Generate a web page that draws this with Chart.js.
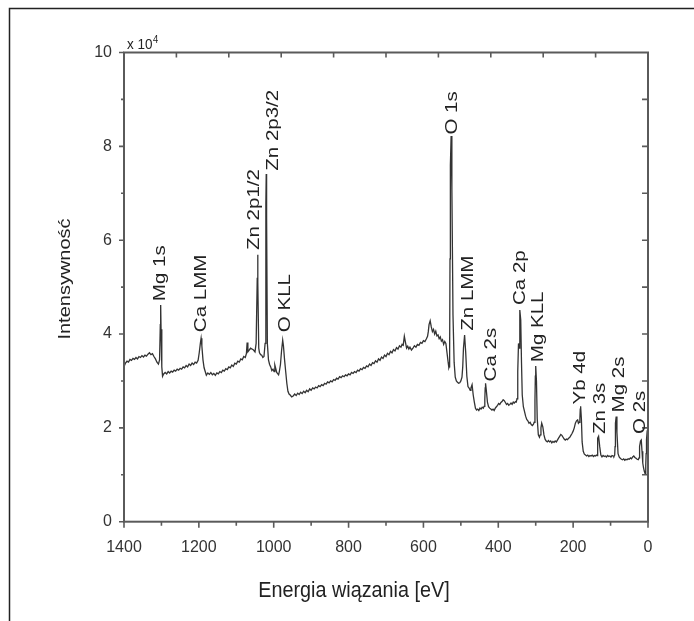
<!DOCTYPE html>
<html><head><meta charset="utf-8">
<script src="https://cdn.jsdelivr.net/npm/chart.js@4.4.1/dist/chart.umd.min.js"></script>
<style>html,body{margin:0;padding:0;background:#fff;}canvas{display:block;}</style>
</head><body>
<canvas id="c" width="694" height="621"></canvas>
<script>
// Binding energy [eV]
const energy = [1400,1396,1392,1388,1384,1380,1376,1372,1368,1364,1360,1356,1352,1348,1344,1340,1336,1332,1328,1324,1320,1316,1312,1308,1305,1303,1302,1301,1299,1297,1294,1290,1286,1282,1278,1274,1270,1266,1262,1258,1254,1250,1246,1242,1238,1234,1230,1226,1222,1218,1214,1210,1206,1202,1199,1196,1194,1192,1189,1186,1183,1180,1176,1172,1168,1164,1160,1156,1152,1148,1144,1140,1136,1132,1128,1124,1120,1116,1112,1108,1104,1100,1096,1092,1088,1084,1080,1076,1073,1071,1069,1066,1062,1058,1054,1050,1047,1044,1043,1042,1040,1038,1035,1032,1029,1026,1023,1021,1020,1019,1017,1014,1011,1008,1005,1002,999,997,995,992,989,987,985,982,979,976,974,971,968,965,962,959,956,952,948,944,940,936,932,928,924,920,916,912,908,904,900,896,892,888,884,880,876,872,868,864,860,856,852,848,844,840,836,832,828,824,820,816,812,808,804,800,796,792,788,784,780,776,772,768,764,760,756,752,748,744,740,736,732,728,724,720,716,712,708,704,700,696,692,688,684,680,676,672,668,664,660,657,654,651,648,645,642,639,636,632,628,624,620,616,612,608,604,600,596,592,589,587,585,582,579,576,573,570,567,564,561,558,555,552,549,546,543,540,537,534,532,531,530,529,528,526,524,521,518,515,512,509,506,503,500,497,495,493,490,487,484,481,478,475,473,470,467,464,461,458,455,452,449,446,443,440,438,436,435,434,432,429,426,423,420,417,414,411,408,405,402,399,396,393,390,387,384,381,378,375,372,369,366,363,360,357,354,352,350,348,346,344,343,342,340,338,336,333,330,327,324,321,318,315,312,309,306,304,302,301,300,298,296,293,290,288,286,284,281,278,275,272,269,266,263,260,257,254,251,248,245,242,239,236,233,230,227,224,221,218,215,212,209,206,203,200,197,194,191,188,186,184,182,181,180,178,176,173,170,167,164,161,158,155,152,149,146,143,140,138,136,135,134,132,129,126,123,120,117,114,111,108,105,102,99,96,93,91,89,88,87,85,83,80,77,74,71,68,65,62,59,56,53,50,47,44,41,38,35,32,29,26,24,23,22,20,18,16,14,12,10,8,6,5,4,2,1];
// Intensity [x 10^4]
const intensity = [3.30,3.38,3.42,3.40,3.46,3.44,3.48,3.46,3.50,3.47,3.52,3.50,3.54,3.51,3.55,3.53,3.57,3.60,3.56,3.58,3.52,3.47,3.40,3.36,3.45,4.20,4.62,4.10,3.30,3.10,3.15,3.18,3.15,3.20,3.17,3.21,3.19,3.23,3.21,3.25,3.23,3.27,3.25,3.30,3.28,3.33,3.30,3.36,3.33,3.38,3.35,3.40,3.38,3.44,3.60,3.80,3.91,3.75,3.45,3.28,3.20,3.12,3.17,3.14,3.18,3.13,3.16,3.12,3.17,3.15,3.20,3.18,3.23,3.21,3.26,3.24,3.30,3.28,3.34,3.31,3.38,3.36,3.42,3.40,3.47,3.45,3.52,3.50,3.58,3.82,3.62,3.65,3.70,3.68,3.66,3.62,3.80,5.20,5.69,5.10,3.70,3.60,3.56,3.55,3.50,3.52,3.80,6.80,7.41,6.50,3.80,3.45,3.35,3.30,3.22,3.25,3.20,3.34,3.28,3.18,3.15,3.13,3.20,3.35,3.65,3.87,3.75,3.45,3.20,2.95,2.78,2.72,2.70,2.66,2.68,2.72,2.69,2.74,2.71,2.76,2.73,2.78,2.75,2.80,2.77,2.83,2.80,2.85,2.83,2.87,2.85,2.90,2.88,2.92,2.90,2.95,2.93,2.98,2.96,3.00,2.98,3.03,3.01,3.06,3.04,3.09,3.07,3.11,3.09,3.13,3.11,3.15,3.13,3.18,3.16,3.20,3.18,3.23,3.21,3.26,3.24,3.29,3.27,3.32,3.30,3.36,3.33,3.39,3.37,3.43,3.40,3.47,3.44,3.51,3.48,3.55,3.52,3.59,3.56,3.63,3.60,3.67,3.64,3.71,3.68,3.75,3.72,3.78,3.76,3.95,3.82,3.70,3.74,3.68,3.72,3.66,3.70,3.75,3.72,3.78,3.76,3.82,3.80,3.86,3.84,3.90,3.95,4.05,4.20,4.28,4.15,4.05,4.10,4.00,4.06,3.96,3.98,3.90,3.94,3.85,3.88,3.78,3.84,3.80,3.60,3.40,3.28,3.30,3.60,5.60,7.60,8.22,7.10,4.40,3.40,3.08,3.00,2.97,2.95,2.96,3.00,3.08,3.30,3.70,3.98,3.60,3.10,2.88,2.85,2.80,2.85,2.92,2.70,2.55,2.42,2.38,2.40,2.37,2.42,2.40,2.44,2.42,2.46,2.60,2.85,2.95,2.80,2.55,2.45,2.42,2.40,2.38,2.40,2.37,2.42,2.45,2.48,2.52,2.50,2.54,2.56,2.60,2.58,2.54,2.50,2.52,2.48,2.50,2.53,2.50,2.55,2.53,2.56,2.55,2.62,3.20,3.80,3.70,4.20,4.51,4.30,3.40,2.70,2.45,2.35,2.25,2.18,2.15,2.10,2.12,2.07,2.05,2.08,2.12,2.60,3.10,3.32,3.00,2.20,1.85,1.80,1.85,2.00,2.10,2.02,1.85,1.76,1.72,1.70,1.73,1.70,1.72,1.68,1.71,1.69,1.72,1.70,1.74,1.78,1.82,1.86,1.84,1.80,1.76,1.74,1.76,1.75,1.78,1.80,1.84,1.88,1.93,2.00,2.10,2.15,2.17,2.10,2.12,2.20,2.40,2.46,2.20,1.70,1.50,1.44,1.42,1.40,1.42,1.39,1.41,1.40,1.42,1.39,1.41,1.40,1.42,1.41,1.55,1.78,1.82,1.60,1.42,1.38,1.41,1.39,1.40,1.38,1.41,1.39,1.40,1.38,1.41,1.40,1.39,1.42,1.60,2.10,2.24,1.90,1.45,1.38,1.35,1.33,1.32,1.34,1.31,1.33,1.32,1.34,1.33,1.36,1.34,1.38,1.40,1.37,1.35,1.33,1.32,1.36,1.45,1.60,1.72,1.74,1.50,1.25,1.15,1.08,1.03,1.20,1.45,1.75,1.95,1.70,1.25,1.10];

// Axis tick values
const xTickValues = [1400,1200,1000,800,600,400,200,0];
const yTickValues = [0,2,4,6,8,10];

// Peak labels
const peakNames  = ['Mg 1s','Ca LMM','Zn 2p1/2','Zn 2p3/2','O KLL','O 1s','Zn LMM','Ca 2s','Ca 2p','Mg KLL','Yb 4d','Zn 3s','Mg 2s','O 2s'];
const peakEnergy = [1306,1195,1054,1005,971,527,482,421,343,295,184,130,79,24];
const peakBase   = [4.70,4.04,5.79,7.48,4.04,8.25,4.07,2.99,4.62,3.40,2.50,1.87,2.33,1.87];

const FONT = '"Liberation Sans", Arial, Helvetica, sans-serif';

function hText(ctx, txt, x, y, size, sx, align, baseline) {
  ctx.save(); ctx.translate(x, y); ctx.scale(sx, 1);
  ctx.font = size + 'px ' + FONT; ctx.textAlign = align; ctx.textBaseline = baseline;
  ctx.fillText(txt, 0, 0); ctx.restore();
}
function vText(ctx, txt, x, y, size, sx, align, baseline) {
  ctx.save(); ctx.translate(x, y); ctx.rotate(-Math.PI / 2); ctx.scale(1, sx);
  ctx.font = size + 'px ' + FONT; ctx.textAlign = align; ctx.textBaseline = baseline;
  ctx.fillText(txt, 0, 0); ctx.restore();
}

const decor = {
  id: 'decor',
  afterDraw(chart) {
    const ctx = chart.ctx, a = chart.chartArea;
    const xs = chart.scales.x, ys = chart.scales.y;
    ctx.save();
    // page frame
    ctx.strokeStyle = '#222'; ctx.lineWidth = 1.5;
    ctx.beginPath(); ctx.moveTo(9.5, 621); ctx.lineTo(9.5, 8.5); ctx.lineTo(694, 8.5); ctx.stroke();
    // axis box
    ctx.strokeStyle = '#5a5a5a'; ctx.lineWidth = 2;
    ctx.strokeRect(a.left, a.top, a.right - a.left, a.bottom - a.top);
    ctx.lineWidth = 1.6;
    ctx.beginPath();
    for (let v = 0; v <= 1400; v += 100) {
      const px = xs.getPixelForValue(v);
      const len = (v % 200 === 0) ? 6 : 4;
      ctx.moveTo(px, a.bottom); ctx.lineTo(px, a.bottom + len);
    }
    for (let k = 1; k < 10; k++) {
      const px = xs.getPixelForValue(1400 - k * 140);
      ctx.moveTo(px, a.top); ctx.lineTo(px, a.top + 5);
    }
    for (let v = 0; v <= 10; v++) {
      const py = ys.getPixelForValue(v);
      const len = (v % 2 === 0) ? 5 : 3;
      ctx.moveTo(a.left, py); ctx.lineTo(a.left - len, py);
    }
    for (let v = 1; v < 10; v++) {
      const py = ys.getPixelForValue(v);
      ctx.moveTo(a.right, py); ctx.lineTo(a.right - 6, py);
    }
    ctx.stroke();

    ctx.fillStyle = '#222';
    hText(ctx, 'x 10', a.left + 3, a.top - 4, 15, 0.9, 'left', 'alphabetic');
    hText(ctx, '4', a.left + 29, a.top - 10, 10.5, 0.9, 'left', 'alphabetic');
    vText(ctx, 'Intensywność', 70, 279, 20, 0.84, 'center', 'alphabetic');
    hText(ctx, 'Energia wiązania [eV]', 354, 597, 21.5, 0.92, 'center', 'alphabetic');
    for (let i = 0; i < peakNames.length; i++) {
      const px = xs.getPixelForValue(peakEnergy[i]);
      const py = ys.getPixelForValue(peakBase[i]);
      vText(ctx, peakNames[i], px + 1, py, 20.5, 0.84, 'left', 'middle');
    }
    ctx.restore();
  }
};

const tickFont = { family: FONT, size: 16 };
new Chart(document.getElementById('c'), {
  type: 'line',
  data: {
    datasets: [{
      data: energy.map((e, i) => ({ x: e, y: intensity[i] })),
      borderColor: '#333', borderWidth: 1.3, pointRadius: 0, tension: 0, fill: false
    }]
  },
  options: {
    responsive: false, animation: false, devicePixelRatio: 1,
    layout: { padding: { left: 0, right: 46, top: 52.5, bottom: 0 } },
    plugins: { legend: { display: false }, tooltip: { enabled: false } },
    scales: {
      x: {
        type: 'linear', min: 0, max: 1400, reverse: true,
        grid: { display: false, drawTicks: false }, border: { display: false },
        afterBuildTicks(s) { s.ticks = xTickValues.map(v => ({ value: v })); },
        ticks: { padding: 16, color: '#333', font: tickFont, maxRotation: 0, autoSkip: false,
                 callback: v => String(v) },
        afterFit(s) { s.height = 99.3; }
      },
      y: {
        type: 'linear', min: 0, max: 10,
        grid: { display: false, drawTicks: false }, border: { display: false },
        afterBuildTicks(s) { s.ticks = yTickValues.map(v => ({ value: v })); },
        ticks: { padding: 12, color: '#333', font: tickFont, callback: v => String(v) },
        afterFit(s) { s.width = 124; }
      }
    }
  },
  plugins: [decor]
});
</script>
</body></html>
